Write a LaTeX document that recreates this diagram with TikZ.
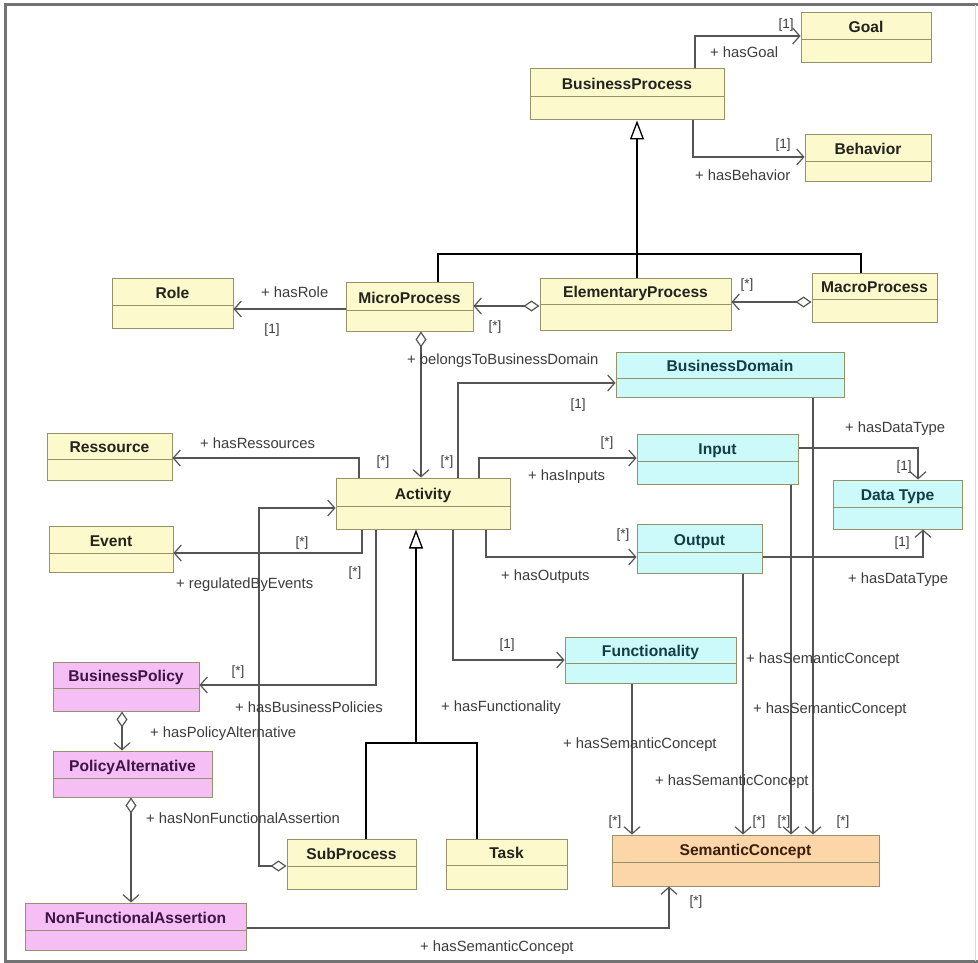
\documentclass[tikz,border=0pt]{standalone}
\usepackage{fontspec}
\setmainfont{Liberation Sans}
\usetikzlibrary{arrows.meta}
\definecolor{yel}{RGB}{252,250,205}
\definecolor{cya}{RGB}{204,250,250}
\definecolor{pnk}{RGB}{245,190,245}
\definecolor{org}{RGB}{252,214,168}
\definecolor{bdr}{RGB}{150,145,105}
\definecolor{ln}{RGB}{85,85,85}
\definecolor{lbl}{RGB}{60,60,60}
\definecolor{tyel}{RGB}{35,35,30}
\definecolor{tcya}{RGB}{20,60,70}
\definecolor{tpnk}{RGB}{60,20,70}
\definecolor{torg}{RGB}{60,30,10}
\tikzset{
 box/.style={draw=bdr, line width=1pt, inner sep=0pt, rectangle},
 ttl/.style={font=\fontsize{15.6}{15.6}\selectfont\bfseries, text=#1, inner sep=0pt, anchor=base},
 lab/.style={font=\fontsize{14.8}{14.8}\selectfont, text=lbl, inner sep=0pt, anchor=west},
 mul/.style={font=\fontsize{13.5}{13.5}\selectfont, text=lbl, inner sep=0pt},
 assoc/.style={draw=ln, line width=1.2pt, -{Straight Barb[length=7pt,width=16pt]}},
 agg/.style={draw=ln, line width=1.2pt, {Diamond[open,length=16pt,width=11pt,fill=white]}-{Straight Barb[length=7pt,width=16pt]}},
 gen/.style={draw=black, line width=2.4pt},
 genthin/.style={draw=black, line width=1.4pt},
 genhead/.style={-{Triangle[open,length=19pt,width=14pt,line width=1.3pt,fill=white]}},
 frame/.style={draw=black!55, line width=3pt}
}
\newcommand{\cls}[9]{%
 \node[box, fill=#7, minimum width={(#4-#2)*1pt}, minimum height={(#5-#3)*1pt}] (#1) at ({(#2+#4)/2},{(#3+#5)/2}) {};
 \draw[draw=bdr, line width=1pt] (#1.west |- 0,#6) -- (#1.east |- 0,#6);
 \node[ttl=#8] (#1-t) at ({(#2+#4)/2},{#6-7}) {#9};
}
\begin{document}
\begin{tikzpicture}[x=1pt,y=-1pt]
\useasboundingbox (0,0) rectangle (978,963);
\fill[white] (0,0) rectangle (978,963);
\draw[frame] (978,5) -- (5,5) -- (5,961) -- (978,961);
\draw[draw=black!15, line width=1pt] (975,5) -- (975,961);

% classes
\cls{goal}{801}{13}{931}{63}{40}{yel}{tyel}{Goal}
\cls{bp}{530}{69}{724}{120}{97}{yel}{tyel}{BusinessProcess}
\cls{beh}{805}{135}{931}{182}{162}{yel}{tyel}{Behavior}
\cls{role}{112}{278}{233}{328}{305}{yel}{tyel}{Role}
\cls{micro}{346}{282}{473}{331}{310}{yel}{tyel}{MicroProcess}
\cls{ep}{540}{278}{731}{330}{304}{yel}{tyel}{ElementaryProcess}
\cls{macro}{812}{273}{937}{322}{299}{yel}{tyel}{MacroProcess}
\cls{bd}{616}{352}{844}{397}{378}{cya}{tcya}{BusinessDomain}
\cls{res}{47}{433}{172}{480}{459}{yel}{tyel}{Ressource}
\cls{inp}{637}{434}{798}{484}{461}{cya}{tcya}{Input}
\cls{act}{336}{478}{510}{529}{506}{yel}{tyel}{Activity}
\cls{dt}{833}{480}{962}{529}{507}{cya}{tcya}{Data Type}
\cls{ev}{49}{526}{173}{572}{553}{yel}{tyel}{Event}
\cls{out}{637}{524}{762}{573}{552}{cya}{tcya}{Output}
\cls{func}{565}{637}{736}{683}{663}{cya}{tcya}{Functionality}
\cls{bpol}{53}{662}{199}{711}{688}{pnk}{tpnk}{BusinessPolicy}
\cls{pa}{53}{751}{212}{797}{778}{pnk}{tpnk}{PolicyAlternative}
\cls{sub}{287}{839}{416}{889}{866}{yel}{tyel}{SubProcess}
\cls{task}{446}{839}{567}{889}{865}{yel}{tyel}{Task}
\cls{sc}{612}{835}{879}{886}{862}{org}{torg}{SemanticConcept}
\cls{nfa}{25}{903}{246}{950}{930}{pnk}{tpnk}{NonFunctionalAssertion}

% generalization to BusinessProcess
\coordinate (j1) at (637,254);
\coordinate (jl) at (438,254);
\coordinate (jr) at (861,254);
\draw[gen] (micro.north -| jl) -- (jl) -- (jr) -- (macro.north -| jr);
\draw[genthin] (ep.north -| j1) -- (j1);
\draw[gen, genhead] (j1) -- (bp.south -| j1);

% generalization to Activity
\coordinate (j2) at (416,743);
\coordinate (j2l) at (366,743);
\coordinate (j2r) at (477,743);
\draw[gen] (sub.north -| j2l) -- (j2l) -- (j2r) -- (task.north -| j2r);
\draw[gen, genhead] (j2) -- (act.south -| j2);

% associations top
\draw[assoc] (bp.north -| 695,0) |- (goal.west |- 0,36);
\draw[assoc] (bp.south -| 693,0) |- (beh.west |- 0,157);
\draw[agg] (macro.west |- 0,302) -- (ep.east |- 0,302);
\draw[agg] (ep.west |- 0,306) -- (micro.east |- 0,306);
\draw[assoc] (micro.west |- 0,309) -- (role.east |- 0,309);
\draw[agg] (micro.south -| 421,0) -- (act.north -| 421,0);

% from Activity
\draw[assoc] (act.north -| 458,0) |- (bd.west |- 0,383);
\draw[assoc] (act.north -| 479,0) |- (inp.west |- 0,458);
\draw[assoc] (act.north -| 359,0) |- (res.east |- 0,458);
\draw[assoc] (act.south -| 362,0) |- (ev.east |- 0,553);
\draw[assoc] (act.south -| 486,0) |- (out.west |- 0,557);
\draw[assoc] (act.south -| 453,0) |- (func.west |- 0,660);
\draw[assoc] (act.south -| 376,0) |- (bpol.east |- 0,685);
\coordinate (sb) at (259,508);
\draw[agg] (sub.west |- 0,866) -| (sb) -- (act.west |- sb);

% policies
\draw[agg] (bpol.south -| 122,0) -- (pa.north -| 122,0);
\draw[agg] (pa.south -| 131,0) -- (nfa.north -| 131,0);
\draw[assoc] (nfa.east |- 0,928) -| (sc.south -| 669,0);

% data types
\draw[assoc] (inp.east |- 0,448) -| (dt.north -| 918,0);
\draw[assoc] (out.east |- 0,557) -| (dt.south -| 923,0);

% semantic concept
\draw[assoc] (func.south -| 632,0) -- (sc.north -| 632,0);
\draw[assoc] (out.south -| 743,0) -- (sc.north -| 743,0);
\draw[assoc] (inp.south -| 791,0) -- (sc.north -| 791,0);
\draw[assoc] (bd.south -| 813,0) -- (sc.north -| 813,0);

% labels
\node[mul] (m1) at (786,25) {[1]};
\node[lab] (l1) at (710,52) {+ hasGoal};
\node[mul] (m2) at (783,145) {[1]};
\node[lab] (l2) at (695,175) {+ hasBehavior};
\node[mul] (m3) at (747,285) {[*]};
\node[mul] (m4) at (495,327) {[*]};
\node[lab] (l3) at (261,292) {+ hasRole};
\node[mul] (m5) at (272,330) {[1]};
\node[lab] (l4) at (407,361) {+ belongsToBusinessDomain};
\node[mul] (m6) at (578,405) {[1]};
\node[lab] (l5) at (200,443) {+ hasRessources};
\node[mul] (m7) at (383,462) {[*]};
\node[mul] (m8) at (447,462) {[*]};
\node[mul] (m9) at (607,443) {[*]};
\node[lab] (l6) at (528,477) {+ hasInputs};
\node[lab] (l7) at (845,429) {+ hasDataType};
\node[mul] (m10) at (904,467) {[1]};
\node[mul] (m11) at (302,543) {[*]};
\node[mul] (m12) at (355,573) {[*]};
\node[lab] (l8) at (176,585) {+ regulatedByEvents};
\node[mul] (m13) at (623,535) {[*]};
\node[lab] (l9) at (501,577) {+ hasOutputs};
\node[mul] (m14) at (902,543) {[1]};
\node[lab] (l10) at (848,580) {+ hasDataType};
\node[mul] (m15) at (507,645) {[1]};
\node[lab] (l11) at (441,708) {+ hasFunctionality};
\node[lab] (l12) at (746,660) {+ hasSemanticConcept};
\node[lab] (l13) at (753,710) {+ hasSemanticConcept};
\node[lab] (l14) at (563,745) {+ hasSemanticConcept};
\node[lab] (l15) at (655,782) {+ hasSemanticConcept};
\node[mul] (m16) at (238,672) {[*]};
\node[lab] (l16) at (235,707) {+ hasBusinessPolicies};
\node[lab] (l17) at (150,734) {+ hasPolicyAlternative};
\node[lab] (l18) at (146,818) {+ hasNonFunctionalAssertion};
\node[mul] (m17) at (615,822) {[*]};
\node[mul] (m18) at (759,822) {[*]};
\node[mul] (m19) at (784,822) {[*]};
\node[mul] (m20) at (843,822) {[*]};
\node[mul] (m21) at (696,902) {[*]};
\node[lab] (l19) at (420,948) {+ hasSemanticConcept};
\end{tikzpicture}
\end{document}
